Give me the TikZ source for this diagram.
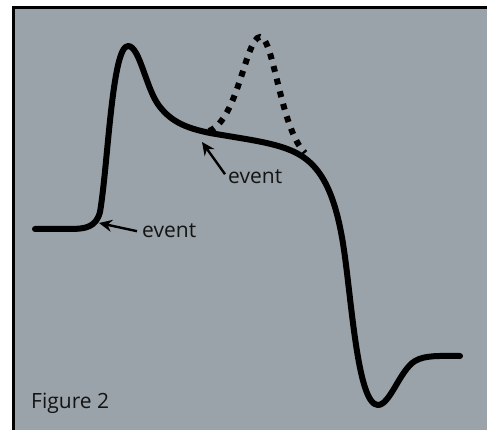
\documentclass[tikz,border=0pt]{standalone}
\usepackage{fontspec}
\setmainfont{Open Sans}
\usetikzlibrary{arrows.meta}
\definecolor{panel}{RGB}{154,163,169}
\definecolor{ink}{RGB}{20,20,20}
\tikzset{
  signal/.style={line width=6pt, line cap=round, line join=round, black},
  altsignal/.style={line width=6pt, black, dash pattern=on 6pt off 7pt},
  pointer/.style={line width=2.4pt, black, -{Stealth[length=13pt,width=12pt]}},
  label/.style={font=\fontsize{21}{24}\selectfont, text=ink, inner sep=0pt}
}
\begin{document}
\begin{tikzpicture}[x=1pt,y=-1pt]
\useasboundingbox (0,0) rectangle (487,430);
\fill[white] (0,0) rectangle (487,430);
\fill[panel] (13.5,8) rectangle (487,430);
\draw[line width=3pt, black] (13.5,431) -- (13.5,8) -- (488,8);
% solid trace
\draw[signal] (35,229) -- (70,229)
  .. controls (86,229) and (96,227) .. (100,212)
  .. controls (108,165) and (112,46) .. (128,46)
  .. controls (140,46) and (146,90) .. (160,107)
  .. controls (172,122) and (186,128) .. (210,133)
  .. controls (250,140) and (280,143) .. (300,155)
  .. controls (322,168) and (336,195) .. (344,250)
  .. controls (352,305) and (358,405) .. (378,405)
  .. controls (390,405) and (400,370) .. (415,361)
  .. controls (425,355) and (440,356) .. (460,356);
% dotted alternative
\draw[altsignal] (209,131) .. controls (238,120) and (246,37) .. (260,37)
  .. controls (274,37) and (280,128) .. (305,153);
% labels
\node[label, anchor=base west] (ev1) at (142,238) {event};
\node[label, anchor=base west] (ev2) at (228,184) {event};
\node[label, anchor=base west] (fig) at (31,408) {Figure 2};
\coordinate (t1) at (99,223);
\coordinate (t2) at (202,142);
\path (ev1.west) ++(-5,0) coordinate (s1);
\path (ev2.west) ++(-3,-3) coordinate (s2);
\draw[pointer] (s1) -- (t1);
\draw[pointer] (s2) -- (t2);
\end{tikzpicture}
\end{document}
